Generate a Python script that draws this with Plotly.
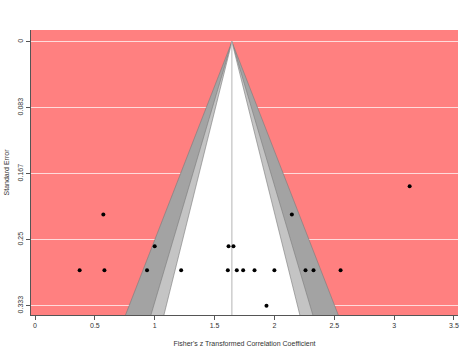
import plotly.graph_objects as go

# Study estimates (Fisher's z) and standard errors
effect_z = [0.571, 2.146,
            1.000, 1.617, 1.658,
            0.373, 0.580, 0.936, 1.221, 1.611, 1.686, 1.739, 1.834, 2.000, 2.260, 2.327, 2.553,
            1.934, 3.130]
std_err = [0.2182, 0.2182,
           0.2582, 0.2582, 0.2582,
           0.2887, 0.2887, 0.2887, 0.2887, 0.2887, 0.2887, 0.2887, 0.2887, 0.2887, 0.2887, 0.2887, 0.2887,
           0.3333, 0.1826]
center_est = 1.645
contour_levels = [2.576, 1.960, 1.645]   # 99%, 95%, 90%
contour_fills = ["#a3a3a3", "#c4c4c4", "#ffffff"]
x_ticks = [0, 0.5, 1, 1.5, 2, 2.5, 3, 3.5]
x_tick_labels = ["0", "0.5", "1", "1.5", "2", "2.5", "3", "3.5"]
y_ticks = [0, 0.0833, 0.1667, 0.25, 0.3333]
y_tick_labels = ["0", "0.083", "0.167", "0.25", "0.333"]

x_range = [-0.0334, 3.534]
y_range = [0.3451, -0.0148]
y_bottom = 0.37

fig = go.Figure()
for z, col in zip(contour_levels, contour_fills):
    fig.add_trace(go.Scatter(
        x=[center_est - z * y_bottom, center_est, center_est + z * y_bottom, center_est - z * y_bottom],
        y=[y_bottom, 0, y_bottom, y_bottom],
        mode="lines", fill="toself", fillcolor=col,
        line=dict(color="#7a7a7a", width=0.6), hoverinfo="skip", showlegend=False))

fig.add_trace(go.Scatter(x=[center_est, center_est], y=[0, y_bottom], mode="lines",
                         line=dict(color="#b4b4b4", width=1), showlegend=False))
fig.add_trace(go.Scatter(x=effect_z, y=std_err, mode="markers",
                         marker=dict(color="black", size=4), showlegend=False))

font = dict(family="Liberation Sans, Arial, sans-serif", size=7, color="#333333")
fig.update_layout(
    width=474, height=355,
    margin=dict(l=31, r=16.3, t=30.3, b=39.7, autoexpand=False),
    paper_bgcolor="white", plot_bgcolor="#ff8080",
    font=font,
    xaxis=dict(range=x_range, tickvals=x_ticks, ticktext=x_tick_labels, automargin=False,
               showgrid=False, zeroline=False, showline=True, linecolor="#555555", linewidth=1,
               ticks="outside", ticklen=4, tickcolor="#555555",
               title=dict(text="Fisher's z Transformed Correlation Coefficient", standoff=12, font=font)),
    yaxis=dict(range=y_range, tickvals=y_ticks, ticktext=y_tick_labels, tickangle=-90, automargin=False,
               showgrid=True, gridcolor="rgba(255,235,235,0.85)", gridwidth=1,
               zeroline=False, showline=True, linecolor="#555555", linewidth=1,
               ticks="outside", ticklen=4, tickcolor="#555555",
               title=dict(text="Standard Error", standoff=6, font=font)),
)
fig.write_html("out.html", config={"displayModeBar": False},
               post_script="document.body.style.margin='0';document.body.style.overflow='hidden';")
